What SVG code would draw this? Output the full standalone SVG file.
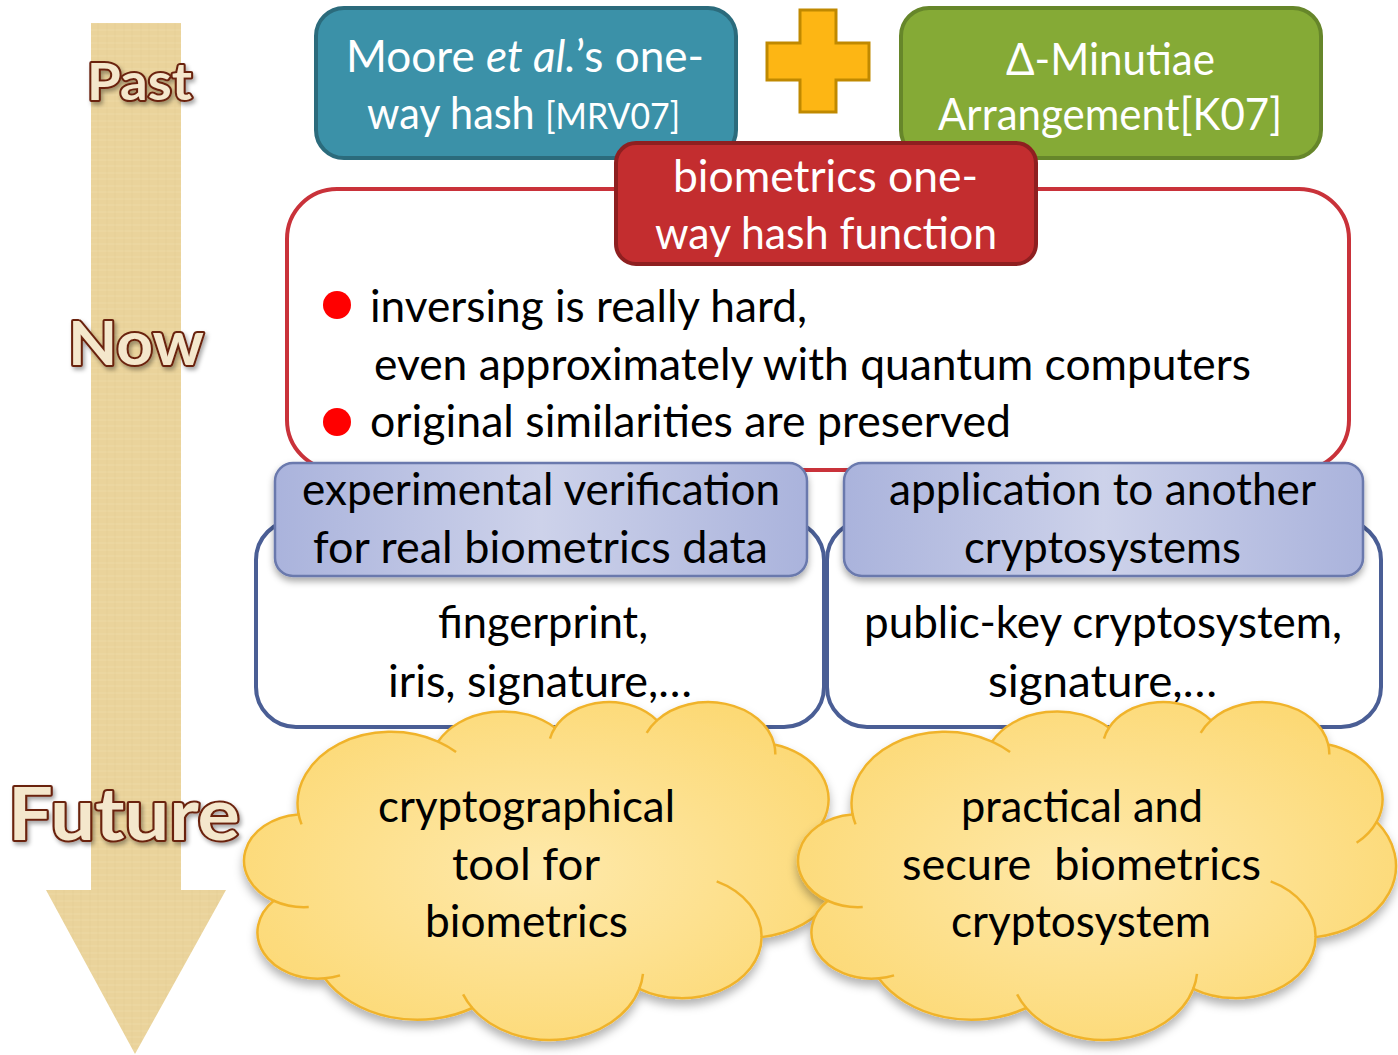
<svg xmlns="http://www.w3.org/2000/svg" width="1398" height="1055" viewBox="0 0 1398 1055">
<style>
  .t { font-family: Lato, "Open Sans", "Liberation Sans", sans-serif; font-size: 44px; }
  .w { fill: #ffffff; }
  .k { fill: #000000; }
  .era { font-family: Lato, "DejaVu Sans", sans-serif; font-weight: 700; fill: #f4e7cc; stroke: #6b2410; stroke-width: 4px; paint-order: stroke; stroke-linejoin: round; }
  .cloud { fill: url(#cloudFill); stroke: #f0b32c; stroke-width: 2.5px; vector-effect: non-scaling-stroke; }
  .crease { fill: none; stroke: #f0b32c; stroke-width: 2.5px; vector-effect: non-scaling-stroke; }
  .bhead { fill: url(#blueFill); stroke: #6a79ad; stroke-width: 2.5px; }
  .bout { fill: #ffffff; stroke: #4a5e95; stroke-width: 4px; }
</style>
<defs>
  <pattern id="papyrus" width="17" height="13" patternUnits="userSpaceOnUse">
    <rect width="17" height="13" fill="#ead39b"/>
    <path d="M0 4H17M0 10H17" stroke="#f1dfb0" stroke-width="1" opacity="0.5"/>
    <path d="M5 0V13M13 0V13" stroke="#e0c78e" stroke-width="0.8" opacity="0.4"/>
  </pattern>
  <radialGradient id="cloudFill" cx="0.5" cy="0.5" r="0.6">
    <stop offset="0" stop-color="#fee9ab"/>
    <stop offset="1" stop-color="#fcd872"/>
  </radialGradient>
  <linearGradient id="blueFill" x1="0" y1="0" x2="1" y2="0">
    <stop offset="0" stop-color="#aab3dc"/>
    <stop offset="0.5" stop-color="#cdd2ea"/>
    <stop offset="1" stop-color="#aab3dc"/>
  </linearGradient>
  <filter id="sh" x="-10%" y="-10%" width="120%" height="140%">
    <feDropShadow dx="0" dy="4" stdDeviation="3.5" flood-color="#000" flood-opacity="0.35"/>
  </filter>
  <filter id="shc" x="-5%" y="-5%" width="110%" height="115%">
    <feDropShadow dx="0" dy="6" stdDeviation="5" flood-color="#000" flood-opacity="0.3"/>
  </filter>
  <filter id="she" x="-10%" y="-10%" width="130%" height="140%">
    <feDropShadow dx="2" dy="3" stdDeviation="2" flood-color="#000" flood-opacity="0.35"/>
  </filter>
  <path id="cloudOutline" class="cloud" d="M 3900 14370 A 6753 9190 0 0 1 14006 5202 A 5333 7267 0 0 1 22458 3434 A 4365 5945 0 0 1 29836 2484 A 4857 6595 0 0 1 38320 5581 A 5333 7273 0 0 1 41821 15465 A 6775 9220 0 0 1 37406 30207 A 5785 7867 0 0 1 28559 36818 A 6752 9215 0 0 1 16483 39270 A 7720 10543 0 0 1 5807 35478 A 4360 5918 0 0 1 2114 25558 A 4345 5945 0 0 1 3865 14515 Z"/>
  <path id="cloudCreases" class="crease" d="M 4648 26355 A 4345 5945 0 0 1 2114 25558 M 6915 35096 A 4360 5918 0 0 1 5807 35478 M 16483 39270 A 6752 9215 0 0 1 15815 37530 M 28825 34908 A 6752 9215 0 0 1 28559 36818 M 34156 23072 A 5785 7867 0 0 1 37406 30207 M 41821 15465 A 5333 7273 0 0 1 40372 18142 M 38320 5581 A 4857 6595 0 0 1 38397 6845 M 29093 4098 A 4857 6595 0 0 1 29836 2484 M 22099 4823 A 4365 5945 0 0 1 22458 3434 M 14006 5202 A 6753 9190 0 0 1 15305 6550 M 4127 15789 A 6753 9190 0 0 1 3900 14370"/>
</defs>

<rect width="1398" height="1055" fill="#ffffff"/>

<g id="timeline">
  <path d="M91 23H181V890H226L135 1054L46 890H91Z" fill="url(#papyrus)"/>
  <text class="era" x="87" y="100" font-size="52" textLength="105" lengthAdjust="spacingAndGlyphs" filter="url(#she)">Past</text>
  <text class="era" x="68" y="365" font-size="62" textLength="136" lengthAdjust="spacingAndGlyphs" filter="url(#she)">Now</text>
  <text class="era" x="8" y="840" font-size="72" textLength="232" lengthAdjust="spacingAndGlyphs" filter="url(#she)">Future</text>
</g>

<g id="moore">
  <rect x="316" y="8" width="420" height="150" rx="28" fill="#3b91a8" stroke="#2b6b7c" stroke-width="4"/>
  <text class="t w" x="346" y="72" textLength="358" lengthAdjust="spacingAndGlyphs">Moore <tspan font-style="italic">et al.</tspan>’s one-</text>
  <text class="t w" x="367" y="129" textLength="313" lengthAdjust="spacingAndGlyphs">way hash <tspan font-size="36">[MRV07]</tspan></text>
</g>

<g id="plus">
  <path d="M800 10H836V43H869V80H836V112H800V80H767V43H800Z" fill="#fdb614" stroke="#c08900" stroke-width="3"/>
</g>

<g id="minutiae">
  <rect x="901" y="8" width="420" height="150" rx="28" fill="#85aa36" stroke="#66862a" stroke-width="4"/>
  <text class="t w" x="1006" y="75" textLength="209" lengthAdjust="spacingAndGlyphs">Δ-Minutiae</text>
  <text class="t w" x="938" y="130" textLength="344" lengthAdjust="spacingAndGlyphs">Arrangement[K07]</text>
</g>

<g id="properties">
  <rect x="287" y="189" width="1062" height="281" rx="50" fill="#ffffff" stroke="#c9323a" stroke-width="4"/>
  <circle cx="337" cy="305" r="14" fill="#ff0000"/>
  <circle cx="337" cy="422" r="14" fill="#ff0000"/>
  <text class="t k" x="370" y="322" textLength="437" lengthAdjust="spacingAndGlyphs">inversing is really hard,</text>
  <text class="t k" x="374" y="380" textLength="877" lengthAdjust="spacingAndGlyphs">even approximately with quantum computers</text>
  <text class="t k" x="370" y="437" textLength="641" lengthAdjust="spacingAndGlyphs">original similarities are preserved</text>
</g>

<g id="bio-hash">
  <rect x="616" y="143" width="420" height="121" rx="20" fill="#c32d2f" stroke="#8e1f20" stroke-width="4"/>
  <text class="t w" x="673" y="192" textLength="305" lengthAdjust="spacingAndGlyphs">biometrics one-</text>
  <text class="t w" x="655" y="249" textLength="342" lengthAdjust="spacingAndGlyphs">way hash function</text>
</g>

<g id="verification">
  <rect class="bout" x="256" y="520" width="568" height="207" rx="40"/>
  <rect class="bhead" x="275" y="463" width="532" height="113" rx="18" filter="url(#sh)"/>
  <text class="t k" x="302" y="505" textLength="478" lengthAdjust="spacingAndGlyphs">experimental verification</text>
  <text class="t k" x="313" y="563" textLength="455" lengthAdjust="spacingAndGlyphs">for real biometrics data</text>
  <text class="t k" x="438" y="638" textLength="210" lengthAdjust="spacingAndGlyphs">fingerprint,</text>
  <text class="t k" x="388" y="697" textLength="304" lengthAdjust="spacingAndGlyphs">iris, signature,…</text>
</g>

<g id="application">
  <rect class="bout" x="827" y="520" width="554" height="207" rx="40"/>
  <rect class="bhead" x="844" y="463" width="519" height="113" rx="18" filter="url(#sh)"/>
  <text class="t k" x="889" y="505" textLength="427" lengthAdjust="spacingAndGlyphs">application to another</text>
  <text class="t k" x="964" y="563" textLength="277" lengthAdjust="spacingAndGlyphs">cryptosystems</text>
  <text class="t k" x="864" y="638" textLength="478" lengthAdjust="spacingAndGlyphs">public-key cryptosystem,</text>
  <text class="t k" x="988" y="697" textLength="229" lengthAdjust="spacingAndGlyphs">signature,…</text>
</g>

<g id="cloud-tool">
  <g filter="url(#shc)">
    <g transform="translate(244.47 700.89) scale(0.013825 0.0078203)">
      <use href="#cloudOutline"/>
      <use href="#cloudCreases"/>
    </g>
  </g>
  <text class="t k" x="378" y="822" textLength="297" lengthAdjust="spacingAndGlyphs">cryptographical</text>
  <text class="t k" x="452" y="880" textLength="148" lengthAdjust="spacingAndGlyphs">tool for</text>
  <text class="t k" x="425" y="937" textLength="203" lengthAdjust="spacingAndGlyphs">biometrics</text>
</g>

<g id="cloud-system">
  <g filter="url(#shc)">
    <g transform="translate(798.47 700.89) scale(0.013825 0.0078203)">
      <use href="#cloudOutline"/>
      <use href="#cloudCreases"/>
    </g>
  </g>
  <text class="t k" x="961" y="822" textLength="242" lengthAdjust="spacingAndGlyphs">practical and</text>
  <text class="t k" x="902" y="880" textLength="359" lengthAdjust="spacingAndGlyphs" style="white-space:pre">secure  biometrics</text>
  <text class="t k" x="951" y="937" textLength="260" lengthAdjust="spacingAndGlyphs">cryptosystem</text>
</g>

<g id="connectors"></g>
</svg>
